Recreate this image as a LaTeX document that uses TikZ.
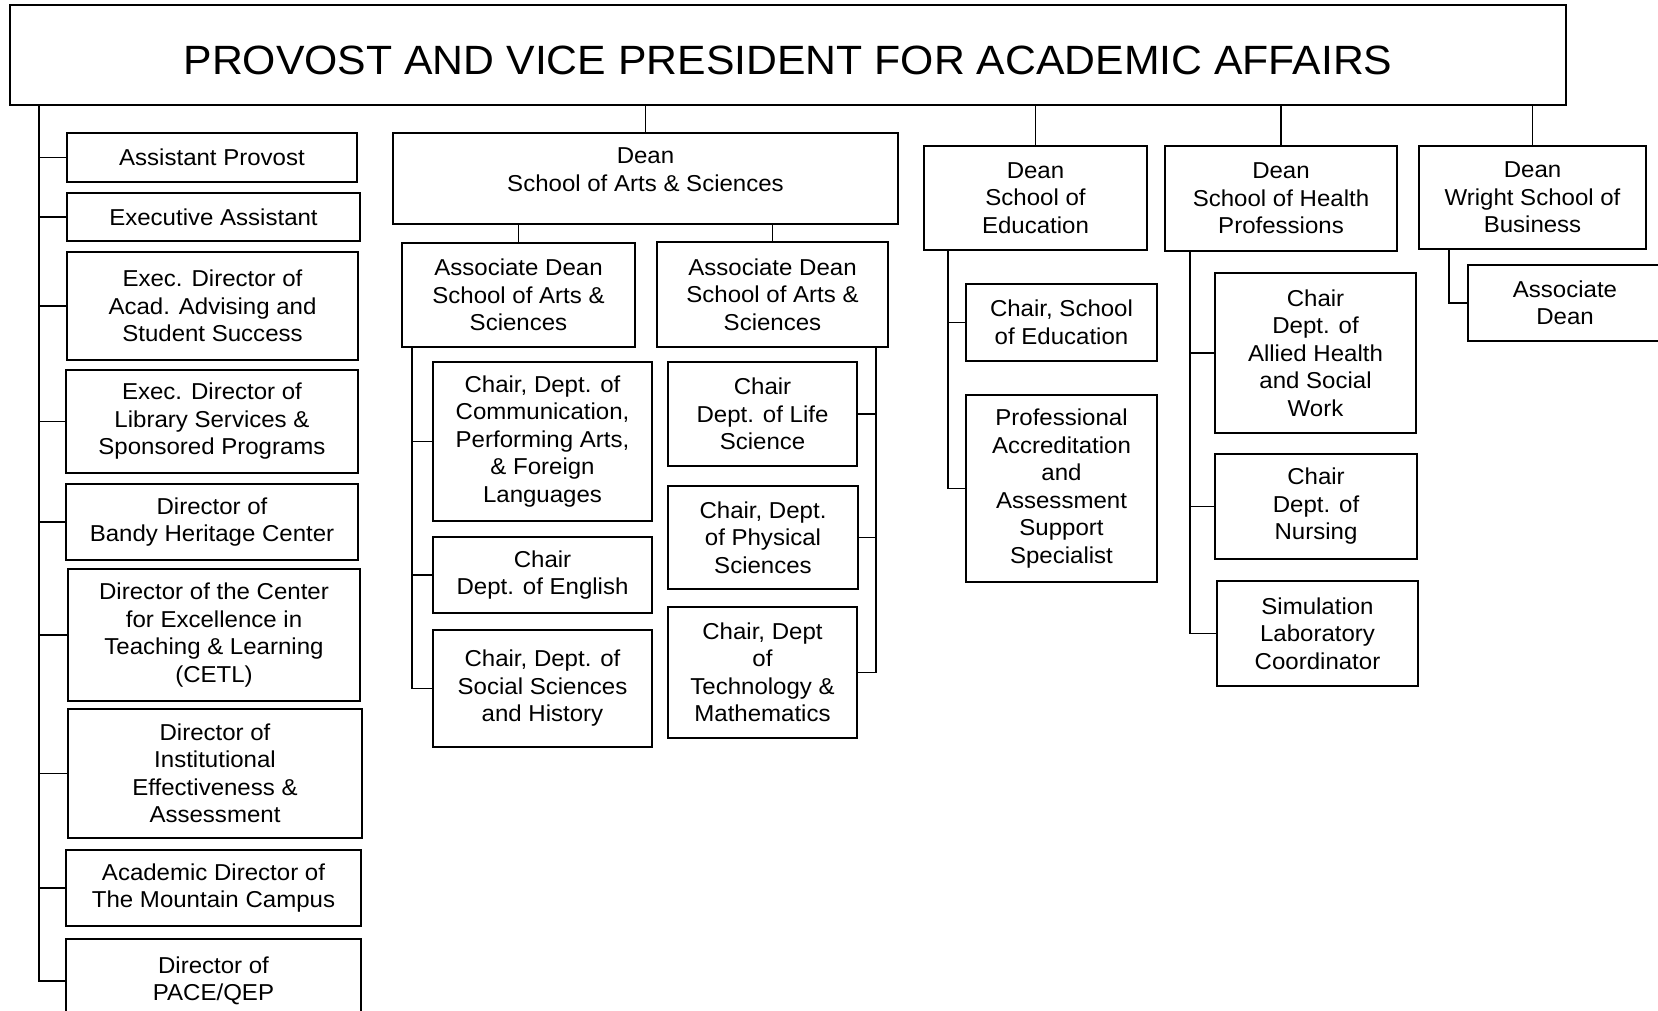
\documentclass[tikz,border=0pt]{standalone}
\usepackage{fontspec}
\setmainfont{Liberation Sans}[FakeStretch=1.045]

\begin{document}
\begin{tikzpicture}[x=1pt, y=-1pt, line width=1.5pt,
	box/.style={draw, align=center, inner sep=0pt, font=\fontsize{23}{27.5}\selectfont},
	link/.style={line width=1.5pt}]
	\useasboundingbox (0,0) rectangle (1658,1011);

	\node[box, minimum width=1556, minimum height=100, text height=40pt, text depth=0pt, font=\fontsize{40.9}{48}\selectfont] (provost) at (788,55) {PROVOST AND VICE PRESIDENT FOR ACADEMIC AFFAIRS};

	% staff reporting to the provost
	\node[box, minimum width=290, minimum height=49]  (asstprov) at (212,157.5) {Assistant Provost};
	\node[box, minimum width=293, minimum height=48]  (execasst) at (213.5,217) {Executive Assistant};
	\node[box, minimum width=291, minimum height=108] (advising) at (212.5,306) {Exec. Director of\\Acad. Advising and\\Student Success};
	\node[box, minimum width=292, minimum height=103] (library)  at (212,421.5) {Exec. Director of\\Library Services \&\\Sponsored Programs};
	\node[box, minimum width=292, minimum height=76]  (bandy)    at (212,522) {Director of\\Bandy Heritage Center};
	\node[box, minimum width=292, minimum height=132] (cetl)     at (214,635) {Director of the Center\\for Excellence in\\Teaching \& Learning\\(CETL)};
	\node[box, minimum width=294, minimum height=129] (ie)       at (215,773.5) {Director of\\Institutional\\Effectiveness \&\\Assessment};
	\node[box, minimum width=295, minimum height=76]  (mountain) at (213.5,888) {Academic Director of\\The Mountain Campus};
	\node[box, minimum width=295, minimum height=84]  (pace)     at (213.5,981) {Director of\\PACE/QEP};

	% school of arts & sciences
	\node[box, minimum width=505, minimum height=91, text depth=18pt] (deanas) at (645.5,178.5) {Dean\\School of Arts \& Sciences};
	\node[box, minimum width=233, minimum height=104] (assocl)   at (518.5,295) {Associate Dean\\School of Arts \&\\Sciences};
	\node[box, minimum width=231, minimum height=105] (assocr)   at (772.5,294.5) {Associate Dean\\School of Arts \&\\Sciences};
	\node[box, minimum width=219, minimum height=159] (comm)     at (542.5,441.5) {Chair, Dept. of\\Communication,\\Performing Arts,\\\& Foreign\\Languages};
	\node[box, minimum width=219, minimum height=76]  (english)  at (542.5,575) {Chair\\Dept. of English};
	\node[box, minimum width=219, minimum height=117] (social)   at (542.5,688.5) {Chair, Dept. of\\Social Sciences\\and History};
	\node[box, minimum width=189, minimum height=104] (life)     at (762.5,414) {Chair\\Dept. of Life\\Science};
	\node[box, minimum width=190, minimum height=103] (physical) at (763,537.5) {Chair, Dept.\\of Physical\\Sciences};
	\node[box, minimum width=189, minimum height=131] (techmath) at (762.5,672.5) {Chair, Dept\\of\\Technology \&\\Mathematics};

	% school of education
	\node[box, minimum width=223, minimum height=104] (deaned)   at (1035.5,198) {Dean\\School of\\Education};
	\node[box, minimum width=191, minimum height=77]  (chaired)  at (1061.5,322.5) {Chair, School\\of Education};
	\node[box, minimum width=191, minimum height=187] (profacc)  at (1061.5,488.5) {Professional\\Accreditation\\and\\Assessment\\Support\\Specialist};

	% school of health professions
	\node[box, minimum width=232, minimum height=105] (deanhp)   at (1281,198.5) {Dean\\School of Health\\Professions};
	\node[box, minimum width=201, minimum height=160] (allied)   at (1315.5,353) {Chair\\Dept. of\\Allied Health\\and Social\\Work};
	\node[box, minimum width=202, minimum height=105] (nursing)  at (1316,506.5) {Chair\\Dept. of\\Nursing};
	\node[box, minimum width=201, minimum height=105] (simlab)   at (1317.5,633.5) {Simulation\\Laboratory\\Coordinator};

	% wright school of business
	\node[box, minimum width=227, minimum height=103] (deanwr)   at (1532.5,197.5) {Dean\\Wright School of\\Business};
	\node[box, minimum width=194, minimum height=76]  (assocwr)  at (1565,303) {Associate\\Dean};

	% trunks
	\coordinate (ltrunk) at (39,105);
	\coordinate (astrunk) at (412,347);
	\coordinate (artrunk) at (876,347);
	\coordinate (edtrunk) at (948,250);
	\coordinate (hptrunk) at (1190,251);
	\coordinate (wrtrunk) at (1449,249);

	\draw[link] (ltrunk) |- (pace.west);
	\foreach \n in {asstprov,execasst,advising,library,bandy,cetl,ie,mountain}
		\draw[link] (ltrunk |- \n.west) -- (\n.west);

	\foreach \n in {deanas,deaned,deanhp,deanwr}
		\draw[link] (provost.south -| \n.north) -- (\n.north);

	\draw[link] (deanas.south -| assocl.north) -- (assocl.north);
	\draw[link] (deanas.south -| assocr.north) -- (assocr.north);

	\draw[link] (astrunk) |- (social.west);
	\draw[link] (astrunk |- comm.west) -- (comm.west);
	\draw[link] (astrunk |- english.west) -- (english.west);

	\draw[link] (artrunk) |- (techmath.east);
	\draw[link] (artrunk |- life.east) -- (life.east);
	\draw[link] (artrunk |- physical.east) -- (physical.east);

	\draw[link] (edtrunk) |- (profacc.west);
	\draw[link] (edtrunk |- chaired.west) -- (chaired.west);

	\draw[link] (hptrunk) |- (simlab.west);
	\draw[link] (hptrunk |- allied.west) -- (allied.west);
	\draw[link] (hptrunk |- nursing.west) -- (nursing.west);

	\draw[link] (wrtrunk) |- (assocwr.west);
\end{tikzpicture}
\end{document}
